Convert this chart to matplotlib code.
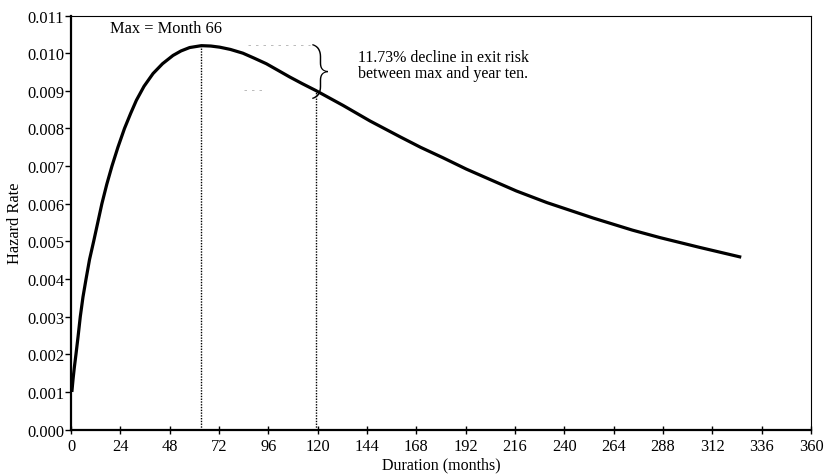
import matplotlib
matplotlib.use("Agg")
import matplotlib.pyplot as plt

# hazard curve (duration in months, hazard rate)
months = [0.4, 1.0, 1.6, 2.4, 3.4, 4.5, 5.8, 7.3, 9.0, 11.0, 13.0, 15.0,
          17.4, 19.9, 22.8, 26.0, 29.0, 31.8, 35.5, 39.9, 44.5, 49.6, 53.5,
          57.7, 63.4, 68.0, 72.3, 77.5, 83.6, 89.0, 95.0, 100.5, 106.3,
          112.5, 119.0, 132.4, 145.4, 160.0, 170.0, 181.0, 192.3, 204.0,
          216.6, 231.5, 254.0, 273.0, 286.5, 305.8, 326.0]
hazard = [0.00100, 0.00135, 0.00165, 0.00200, 0.00246, 0.00300, 0.00352,
          0.00400, 0.00452, 0.00500, 0.00550, 0.00600, 0.00652, 0.00700,
          0.00750, 0.00800, 0.00840, 0.00875, 0.00912, 0.00946, 0.00972,
          0.00994, 0.01006, 0.01015, 0.01020, 0.01019, 0.01016, 0.01010,
          0.01000, 0.00987, 0.00972, 0.00955, 0.00937, 0.00919, 0.00901,
          0.00861, 0.00820, 0.00778, 0.00750, 0.00722, 0.00692, 0.00664,
          0.00634, 0.00603, 0.00562, 0.00530, 0.00510, 0.00484, 0.00458]

max_month = 63
max_rate = 0.01020
year_ten = 119
year_ten_rate = 0.00901

xticks = list(range(0, 361, 24))
yticks = [i / 1000 for i in range(0, 12)]

plt.rcParams['font.family'] = ['Liberation Serif', 'DejaVu Serif']

fig = plt.figure(figsize=(8.26, 4.77), dpi=100)
ax = fig.add_axes([0.086, 0.0973, 0.896, 0.868])

ax.plot(months, hazard, color='black', lw=2.3, solid_capstyle='butt')

# dotted drop lines at the max and at year ten
ax.plot([max_month, max_month], [0, max_rate], color='black', lw=1.0, ls=(0, (1, 1)))
ax.plot([year_ten, year_ten], [0, year_ten_rate], color='black', lw=1.0, ls=(0, (1, 1)))

# faint guide lines next to the brace
ax.plot([86, 116], [0.01021, 0.01021], color='#b0b0b0', lw=0.6, ls=(0, (3, 6)))
ax.plot([84, 93], [0.00903, 0.00903], color='#b0b0b0', lw=0.6, ls=(0, (3, 6)))

ax.text(121.5, 0.00955, '}', fontsize=40, ha='center', va='center',
        family='Roboto', fontweight=100)

ax.text(19, 0.01066, 'Max = Month 66', fontsize=11.8, ha='left', va='center')
ax.text(181.0, 0.00969, '11.73% decline in exit risk\nbetween max and year ten.',
        fontsize=11.5, ha='center', va='center', multialignment='center',
        linespacing=1.0)

ax.set_xlim(0, 360)
ax.set_ylim(0, 0.011)
ax.set_xticks(xticks)
ax.set_yticks(yticks)
ax.set_yticklabels(['%.3f' % v for v in yticks])
ax.tick_params(axis='x', direction='inout', length=6, width=1, labelsize=11.8, pad=3)
ax.tick_params(axis='y', direction='out', length=4, width=1, labelsize=11.8, pad=1)

for side in ['left', 'bottom']:
    ax.spines[side].set_linewidth(1.6)
for side in ['top', 'right']:
    ax.spines[side].set_linewidth(0.8)

ax.set_xlabel('Duration (months)', fontsize=11.5, labelpad=2)
ax.set_ylabel('Hazard Rate', fontsize=11.8, labelpad=3)

fig.savefig('out.png', dpi=100)
